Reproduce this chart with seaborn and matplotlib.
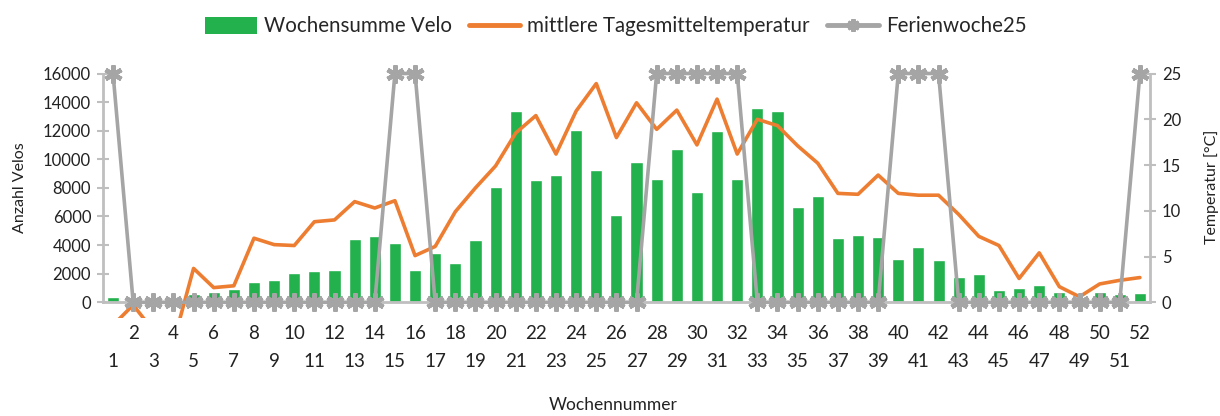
import matplotlib
matplotlib.use("Agg")
import matplotlib.pyplot as plt
import numpy as np
import pandas as pd
import seaborn as sns
from matplotlib.patches import Patch
from matplotlib.lines import Line2D

# data
weeks = list(range(1, 53))
velo = [390, 250, 300, 350, 550, 750, 910, 1400, 1560, 2030, 2200, 2270, 4440,
        4600, 4180, 2270, 3480, 2780, 4370, 8070, 13380, 8580, 8890, 12020, 9280,
        6130, 9800, 8630, 10740, 7720, 11950, 8650, 13590, 13400, 6640, 7420, 4510,
        4700, 4560, 3010, 3860, 2970, 1800, 1990, 860, 980, 1210, 750, 400, 700,
        600, 630]
temp = [-2.5, -0.3, -3.1, -4.4, 3.7, 1.6, 1.8, 7.0, 6.3, 6.2, 8.8, 9.0, 11.0,
        10.3, 11.1, 5.1, 6.1, 9.9, 12.5, 14.9, 18.5, 20.4, 16.2, 20.9, 23.9, 18.0,
        21.8, 18.9, 21.0, 17.2, 22.2, 16.2, 20.0, 19.3, 17.1, 15.2, 11.9, 11.8,
        13.9, 11.9, 11.7, 11.7, 9.6, 7.2, 6.2, 2.6, 5.4, 1.7, 0.6, 2.0, 2.4, 2.7]
ferien_weeks = [1, 15, 16, 28, 29, 30, 31, 32, 40, 41, 42, 52]
ferien = [25 if w in ferien_weeks else 0 for w in weeks]

df = pd.DataFrame({"week": weeks, "velo": velo, "temp": temp, "ferien": ferien})

green = "#22B14C"
orange = "#ED7D31"
grey = "#A5A5A5"
axis_grey = "#BFBFBF"
txt = "#222222"

sns.set_theme(style="white")
plt.rcParams["font.family"] = ["Lato", "DejaVu Sans"]

fig = plt.figure(figsize=(12.2, 4.16), dpi=100)
ax = fig.add_axes([0.0844, 0.2356, 0.8582, 0.5877])

sns.barplot(data=df, x="week", y="velo", native_scale=True, color=green,
            saturation=1, width=0.6, ax=ax)
ax.set_xlim(0.5, 52.5)
ax.set_ylim(-1100, 16000)
ax.set_yticks(range(0, 16001, 2000))
ax.set_xlabel("")
ax.set_ylabel("")

# x axis sits at y=0, ticks between categories, labels on two rows
ax.spines["bottom"].set_position(("data", 0))
ax.spines["top"].set_visible(False)
ax.spines["right"].set_visible(False)
ax.spines["left"].set_bounds(0, 16000)
for s in ["bottom", "left"]:
    ax.spines[s].set_color(axis_grey)
    ax.spines[s].set_linewidth(2)
ax.set_xticks(np.arange(0.5, 53, 1))
ax.set_xticklabels([])
ax.set_xticks(weeks, minor=True)
ax.set_xticklabels([str(w) if w % 2 == 0 else "\n" + str(w) for w in weeks],
                   minor=True, linespacing=1.8)
ax.tick_params(axis="x", which="major", direction="out", length=5, width=1.5,
               color=axis_grey)
ax.tick_params(axis="x", which="minor", length=0, pad=16.5, labelsize=13.5,
               labelcolor=txt)
ax.tick_params(axis="y", direction="inout", length=9, width=1.5, color=axis_grey,
               pad=4, labelsize=12, labelcolor=txt, left=True)

ax2 = ax.twinx()
sns.lineplot(data=df, x="week", y="temp", color=orange, linewidth=2.6, ax=ax2)
sns.lineplot(data=df, x="week", y="ferien", color=grey, linewidth=2.6,
             marker=(6, 2, 0), markersize=13, markeredgewidth=3.2,
             markeredgecolor=grey, clip_on=False, ax=ax2)
ax2.set_ylim(-1100 / 640, 25)
ax2.set_yticks(range(0, 26, 5))
ax2.set_xlim(0.5, 52.5)
ax2.set_xlabel("")
ax2.set_ylabel("")
for s in ["top", "left", "bottom"]:
    ax2.spines[s].set_visible(False)
ax2.spines["right"].set_bounds(0, 25)
ax2.spines["right"].set_color(axis_grey)
ax2.spines["right"].set_linewidth(2)
ax2.tick_params(axis="y", direction="inout", length=9, width=1.5, color=axis_grey,
                pad=4, labelsize=12, labelcolor=txt, right=True)

fig.text(0.016, 0.55, "Anzahl Velos", rotation=90, ha="center", va="center",
         fontsize=11.5, color=txt)
fig.text(0.993, 0.55, "Temperatur [°C]", rotation=90, ha="center", va="center",
         fontsize=11.5, color=txt)
fig.text(0.503, 0.026, "Wochennummer", ha="center", va="center",
         fontsize=12.5, color=txt)

handles = [
    Patch(facecolor=green, edgecolor="none"),
    Line2D([], [], color=orange, linewidth=3.5),
    Line2D([], [], color=grey, linewidth=3.5, marker=(6, 2, 0), markersize=9,
           markeredgewidth=3, markeredgecolor=grey),
]
labels = ["Wochensumme Velo", "mittlere Tagesmitteltemperatur", "Ferienwoche25"]
fig.legend(handles, labels, loc="upper left", bbox_to_anchor=(0.153, 1.005),
           ncol=3, frameon=False, fontsize=14.8, handlelength=2.5,
           handleheight=0.9, columnspacing=0.85, handletextpad=0.34)

fig.savefig("out.png", dpi=100)
